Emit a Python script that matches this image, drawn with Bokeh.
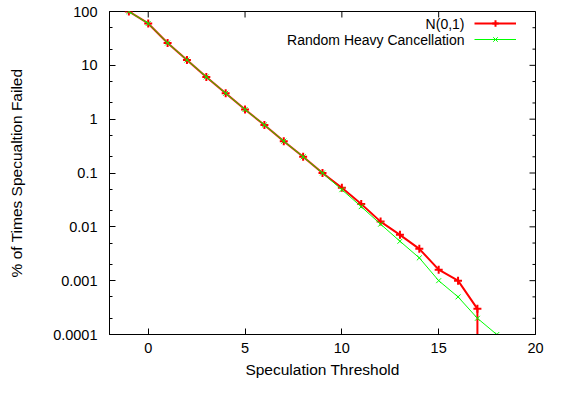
from bokeh.plotting import figure
from bokeh.models import Range1d, FixedTicker, Legend, LegendItem, Label
from bokeh.embed import file_html
from bokeh.resources import INLINE

# ---- data ----
x_vals = [-1, 0, 1, 2, 3, 4, 5, 6, 7, 8, 9, 10, 11, 12, 13, 14, 15, 16, 17]
normal_y = [100, 60, 26, 12.6, 6.1, 3.03, 1.51, 0.78, 0.39, 0.2, 0.1, 0.053, 0.0265,
            0.0125, 0.0071, 0.0039, 0.0016, 0.001, 0.0003]
heavy_x = [-1, 0, 1, 2, 3, 4, 5, 6, 7, 8, 9, 10, 11, 12, 13, 14, 15, 16, 17, 18]
heavy_y = [100, 60, 26, 12.6, 6.1, 3.03, 1.51, 0.78, 0.39, 0.2, 0.1, 0.049, 0.0237,
           0.0112, 0.0054, 0.00265, 0.001, 0.0005, 0.0002, 0.0001]

x_ticks = [0, 5, 10, 15, 20]
y_ticks = [1e-4, 1e-3, 1e-2, 1e-1, 1, 10, 100]
y_tick_labels = ["0.0001", "0.001", "0.01", "0.1", "1", "10", "100"]
y_minor = [m * t for t in y_ticks[:-1] for m in (2, 5)]

series_names = ["N(0,1)", "Random Heavy Cancellation"]
x_label = "Speculation Threshold"
y_label = "% of Times Specualtion Failed"

FONT = "Liberation Sans"
TICK_FS = "14.5px"
AXIS_FS = "15.5px"
LEG_FS = "14px"

p = figure(width=545, height=385, y_axis_type="log", output_backend="svg",
           toolbar_location=None, x_range=Range1d(-2, 20), y_range=Range1d(1e-4, 100),
           min_border_left=109, min_border_right=10, min_border_top=11, min_border_bottom=51)
p.background_fill_color = "white"
p.border_fill_color = "white"
p.outline_line_color = "black"
p.outline_line_width = 1
p.xgrid.visible = False
p.ygrid.visible = False

for ax in p.xaxis + p.yaxis:
    ax.axis_line_color = "black"
    ax.major_tick_line_color = "black"
    ax.minor_tick_line_color = "black"
    ax.major_tick_in = 6
    ax.major_tick_out = 0
    ax.minor_tick_in = 3
    ax.minor_tick_out = 0
    ax.major_label_text_font = FONT
    ax.major_label_text_font_size = TICK_FS
    ax.major_label_text_color = "black"
    ax.axis_label_text_font = FONT
    ax.axis_label_text_font_size = AXIS_FS
    ax.axis_label_text_font_style = "normal"
    ax.axis_label_text_color = "black"

p.xaxis.ticker = FixedTicker(ticks=x_ticks)
p.xaxis.axis_label = x_label
p.yaxis.ticker = FixedTicker(ticks=y_ticks, minor_ticks=y_minor)
p.yaxis.major_label_overrides = {t: l for t, l in zip(y_ticks, y_tick_labels)}
p.yaxis.axis_label = y_label
p.xaxis.major_label_standoff = 8
p.xaxis.axis_label_standoff = 5
p.yaxis.major_label_standoff = 12
p.yaxis.axis_label_standoff = 25

# mirrored ticks on top and right edges (clipped to frame, so only the inner half shows)
x_end = p.x_range.end
y_end = p.y_range.end
p.scatter(x_ticks, [y_end] * len(x_ticks), marker="dash", angle=1.5708, size=12,
          line_color="black", line_width=1)
p.scatter([x_end] * len(y_ticks), y_ticks, marker="dash", size=12,
          line_color="black", line_width=1)
p.scatter([x_end] * len(y_minor), y_minor, marker="dash", size=6,
          line_color="black", line_width=1)

# series
r_line = p.line(x_vals, normal_y, line_color="#ff0000", line_width=2)
r_pts = p.scatter(x_vals, normal_y, marker="cross", size=8, line_color="#ff0000", line_width=2)
p.segment(x0=[x_vals[-1]], y0=[normal_y[-1]], x1=[x_vals[-1]], y1=[p.y_range.start],
          line_color="#ff0000", line_width=2)
g_line = p.line(heavy_x, heavy_y, line_color="#00ff00", line_width=1)
g_pts = p.scatter(heavy_x, heavy_y, marker="x", size=7, line_color="#00ff00", line_width=1)

legend = Legend(items=[LegendItem(label=" ", renderers=[r_line, r_pts]),
                       LegendItem(label=" ", renderers=[g_line, g_pts])],
                location=(365, 287), orientation="vertical",
                glyph_width=42, glyph_height=16, label_width=0, label_height=16,
                label_standoff=0, label_text_font=FONT, label_text_font_size=LEG_FS, spacing=0,
                padding=0, margin=0, border_line_color=None, background_fill_alpha=0)
p.add_layout(legend, "center")

for i, name in enumerate(series_names):
    p.add_layout(Label(x=355, y=311 - 16 * i, x_units="screen", y_units="screen", text=name,
                       text_align="right", text_baseline="middle",
                       text_font=FONT, text_font_size=LEG_FS, text_color="black"))

open("out.html", "w").write(file_html(p, INLINE))
